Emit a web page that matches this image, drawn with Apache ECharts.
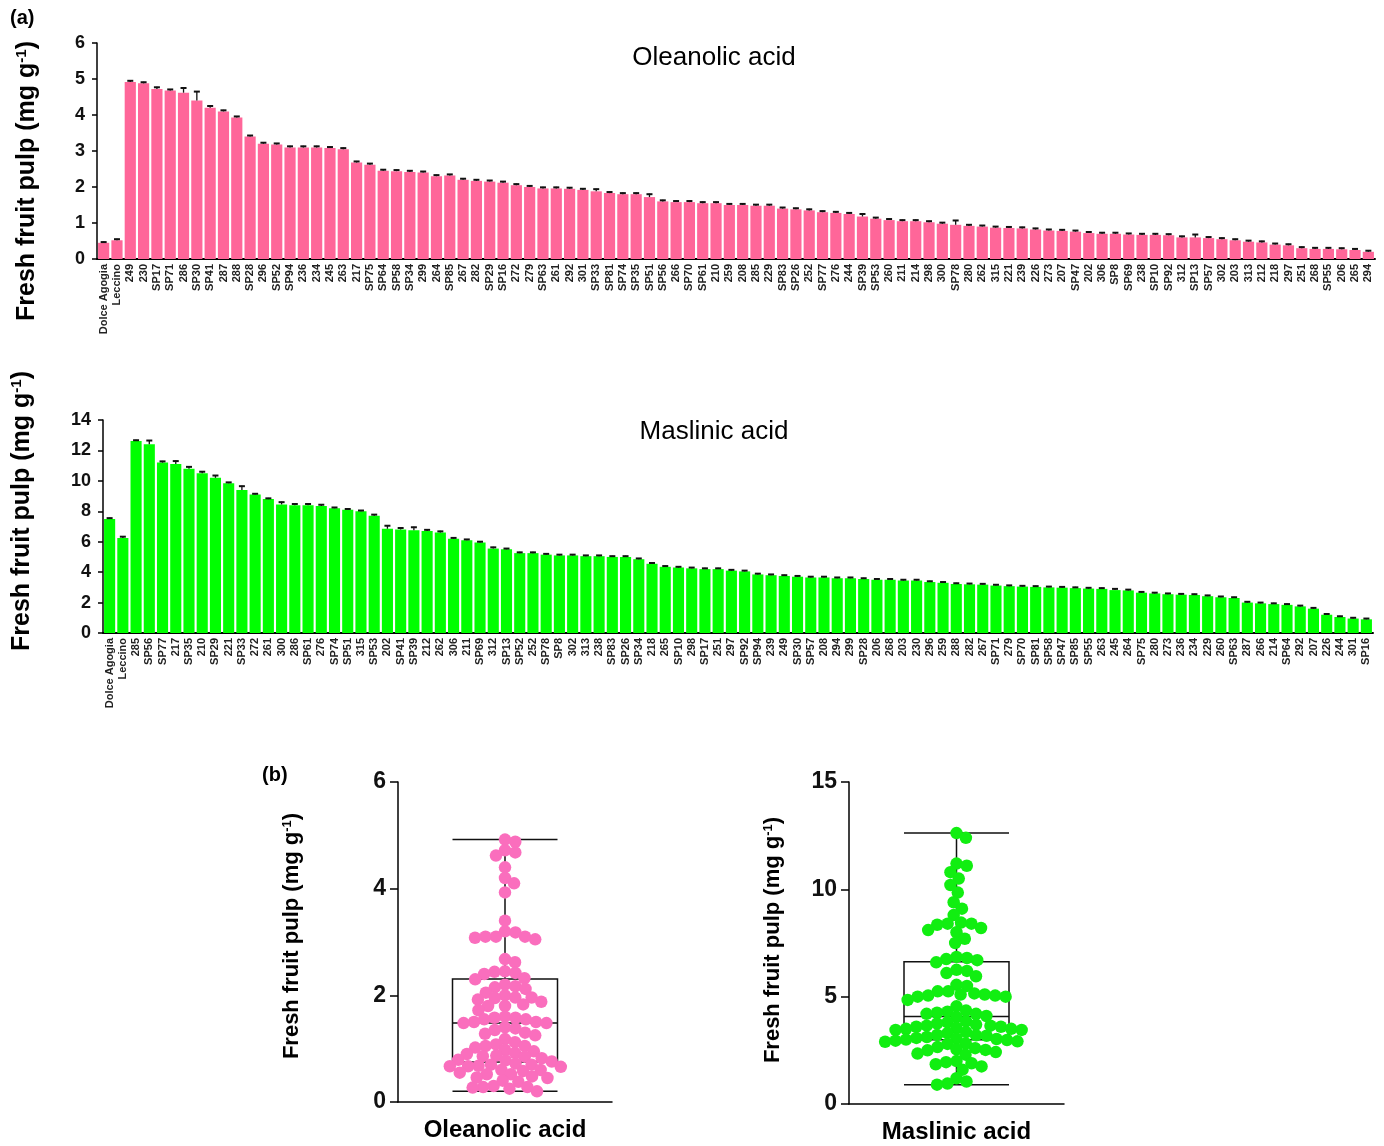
<!DOCTYPE html>
<html>
<head>
<meta charset="utf-8">
<script src="https://cdn.jsdelivr.net/npm/echarts@6/dist/echarts.min.js"></script>
<style>
  html, body { margin: 0; padding: 0; background: #fff; }
  #chart { width: 1384px; height: 1146px; }
</style>
</head>
<body>
<div id="chart"></div>
<script>
// ---- data ----
const oleCats = ['Dolce Agogia','Leccino','249','230','SP17','SP71','286','SP30','SP41','287','288','SP28','296','SP52','SP94','236','234','245','263','217','SP75','SP64','SP58','SP34','299','264','SP85','267','282','SP29','SP16','272','279','SP63','261','292','301','SP33','SP81','SP74','SP35','SP51','SP56','266','SP70','SP61','210','259','208','285','229','SP83','SP26','252','SP77','276','244','SP39','SP53','260','211','214','298','300','SP78','280','262','315','221','239','226','273','207','SP47','202','306','SP8','SP69','238','SP10','SP92','312','SP13','SP57','302','203','313','212','218','297','251','268','SP55','206','265','294'];
const oleVals = [0.45,0.52,4.92,4.88,4.72,4.68,4.62,4.40,4.20,4.10,3.93,3.40,3.20,3.18,3.10,3.10,3.10,3.08,3.05,2.68,2.62,2.45,2.44,2.42,2.40,2.30,2.32,2.20,2.17,2.15,2.12,2.05,2.00,1.96,1.96,1.95,1.92,1.88,1.83,1.80,1.80,1.72,1.60,1.58,1.58,1.55,1.55,1.50,1.50,1.48,1.48,1.40,1.38,1.35,1.30,1.28,1.25,1.18,1.12,1.08,1.05,1.05,1.02,0.98,0.95,0.92,0.90,0.87,0.86,0.85,0.82,0.79,0.78,0.76,0.72,0.70,0.70,0.68,0.67,0.67,0.66,0.60,0.60,0.58,0.55,0.52,0.48,0.46,0.40,0.38,0.30,0.28,0.28,0.27,0.25,0.20];
const oleErr = [0.02,0.03,0.03,0.03,0.05,0.03,0.13,0.25,0.05,0.03,0.03,0.03,0.03,0.03,0.03,0.03,0.03,0.03,0.03,0.03,0.03,0.03,0.03,0.03,0.03,0.03,0.03,0.03,0.03,0.03,0.03,0.03,0.03,0.03,0.03,0.03,0.03,0.06,0.03,0.03,0.03,0.08,0.03,0.03,0.03,0.03,0.03,0.03,0.03,0.03,0.03,0.03,0.03,0.03,0.03,0.03,0.03,0.07,0.03,0.03,0.03,0.03,0.03,0.03,0.12,0.03,0.03,0.03,0.03,0.03,0.03,0.03,0.03,0.03,0.03,0.03,0.03,0.03,0.03,0.03,0.03,0.03,0.08,0.03,0.03,0.03,0.03,0.03,0.03,0.03,0.03,0.03,0.03,0.03,0.03,0.03];

const masCats = ['Dolce Agogia','Leccino','285','SP56','SP77','217','SP35','210','SP29','221','SP33','272','261','300','286','SP61','276','SP74','SP51','315','SP53','202','SP41','SP39','212','262','306','211','SP69','312','SP13','SP52','252','SP78','SP8','302','313','238','SP83','SP26','SP34','218','265','SP10','298','SP17','251','297','SP92','SP94','239','249','SP30','SP57','208','294','299','SP28','206','268','203','230','296','259','288','282','267','SP71','279','SP70','SP81','SP58','SP47','SP85','SP55','263','245','264','SP75','280','273','236','234','229','260','SP63','287','266','214','SP64','292','207','226','244','301','SP16'];
const masVals = [7.50,6.25,12.62,12.40,11.20,11.10,10.80,10.50,10.20,9.85,9.40,9.10,8.80,8.45,8.40,8.40,8.35,8.20,8.10,8.00,7.70,6.85,6.80,6.75,6.70,6.60,6.20,6.10,5.95,5.55,5.50,5.25,5.25,5.15,5.10,5.10,5.05,5.05,5.00,5.00,4.85,4.55,4.35,4.30,4.25,4.20,4.20,4.10,4.05,3.85,3.80,3.75,3.70,3.65,3.65,3.60,3.60,3.55,3.50,3.50,3.45,3.45,3.35,3.30,3.22,3.20,3.18,3.12,3.08,3.05,3.03,3.00,2.98,2.95,2.92,2.90,2.82,2.80,2.65,2.60,2.55,2.52,2.50,2.42,2.35,2.30,2.00,1.95,1.90,1.85,1.75,1.60,1.20,1.05,0.95,0.90];
const masErr = [0.05,0.08,0.05,0.25,0.08,0.20,0.12,0.10,0.15,0.05,0.25,0.05,0.05,0.15,0.08,0.08,0.08,0.05,0.05,0.05,0.08,0.20,0.10,0.20,0.08,0.08,0.05,0.05,0.05,0.08,0.05,0.05,0.05,0.05,0.05,0.05,0.05,0.05,0.05,0.05,0.05,0.05,0.05,0.05,0.05,0.05,0.05,0.05,0.05,0.05,0.05,0.05,0.05,0.05,0.05,0.05,0.05,0.05,0.05,0.05,0.05,0.05,0.05,0.05,0.05,0.05,0.05,0.05,0.05,0.05,0.05,0.05,0.05,0.05,0.05,0.05,0.08,0.05,0.05,0.05,0.05,0.05,0.05,0.05,0.05,0.05,0.05,0.05,0.05,0.05,0.05,0.05,0.05,0.05,0.05,0.05];

const FONT = 'Liberation Sans, Arial, sans-serif';
const PINK = '#ff6699', GREEN = '#00ff00';
const DOT_PINK = '#fa6ebd', DOT_GREEN = '#11ee11';

// box statistics [min, q1, median, q3, max]
function quantile(sorted, p) {
  const pos = (sorted.length - 1) * p;
  const lo = Math.floor(pos), hi = Math.ceil(pos);
  return sorted[lo] + (sorted[hi] - sorted[lo]) * (pos - lo);
}
function boxStats(vals) {
  const s = vals.slice().sort((a, b) => a - b);
  return [s[0], quantile(s, 0.25), quantile(s, 0.5), quantile(s, 0.75), s[s.length - 1]];
}

// beeswarm placement, x offsets in pixels
function swarm(vals, pxPerUnit, d) {
  const order = vals.map((v, i) => i).sort((a, b) => vals[b] - vals[a]);
  const placed = [];
  const out = [];
  order.forEach(i => {
    const y = vals[i] * pxPerUnit;
    const near = placed.filter(p => Math.abs(p[1] - y) < d);
    const cands = [0];
    near.forEach(p => {
      const dx = Math.sqrt(d * d - (p[1] - y) * (p[1] - y));
      cands.push(p[0] + dx, p[0] - dx);
    });
    cands.sort((a, b) => Math.abs(a) - Math.abs(b));
    let x = 0;
    for (const c of cands) {
      if (near.every(p => (p[0] - c) ** 2 + (p[1] - y) ** 2 >= d * d - 0.01)) { x = c; break; }
    }
    placed.push([x, y]);
    out.push([x, vals[i]]);
  });
  return out;
}

function errSeries(xi, yi, vals, errs) {
  return {
    type: 'custom', xAxisIndex: xi, yAxisIndex: yi, z: 5,
    data: vals.map((v, i) => [i, v, errs[i]]),
    renderItem: function (params, api) {
      const i = api.value(0), v = api.value(1), e = api.value(2);
      const p0 = api.coord([i, v]);
      const p1 = api.coord([i, v + e]);
      const w = 6;
      return {
        type: 'group',
        children: [
          { type: 'line', shape: { x1: p0[0], y1: p0[1], x2: p1[0], y2: p1[1] - 0.5 }, style: { stroke: '#111', lineWidth: 1.3 } },
          { type: 'line', shape: { x1: p1[0] - w / 2, y1: p1[1], x2: p1[0] + w / 2, y2: p1[1] }, style: { stroke: '#111', lineWidth: 2 } }
        ]
      };
    }
  };
}

function yName(x, y, size, supSize) {
  return {
    type: 'text', x: x, y: y, rotation: Math.PI / 2,
    style: {
      text: 'Fresh fruit pulp (mg g{sup|-1})',
      fontSize: size, fontWeight: 'bold', fontFamily: FONT, fill: '#000',
      align: 'center', verticalAlign: 'middle',
      rich: { sup: { fontSize: supSize, fontWeight: 'bold', fontFamily: FONT, fill: '#000', verticalAlign: 'top' } }
    }
  };
}

const barX = (cats, gi) => ({
  type: 'category', gridIndex: gi, data: cats,
  axisLine: { lineStyle: { color: '#000', width: 2 } },
  axisTick: { show: false },
  axisLabel: { interval: 0, rotate: 90, fontSize: 11, fontWeight: 'bold', fontFamily: FONT, color: '#222', margin: 5 }
});
const valY = (gi, max, interval, fs, tick, margin) => ({
  type: 'value', gridIndex: gi, min: 0, max: max, interval: interval,
  splitLine: { show: false },
  axisLine: { show: true, onZero: false, lineStyle: { color: '#000', width: 1.5 } },
  axisTick: { show: true, length: tick, lineStyle: { color: '#000', width: 1.5 } },
  axisLabel: { fontSize: fs, fontWeight: 'bold', fontFamily: FONT, color: '#111', margin: margin }
});
const boxX = (label, gi) => ({
  type: 'category', gridIndex: gi, data: [label],
  axisLine: { onZero: false, lineStyle: { color: '#000', width: 1.5 } },
  axisTick: { alignWithLabel: true, length: 10, lineStyle: { color: '#000', width: 1.5 } },
  axisLabel: { fontSize: 24, fontWeight: 'bold', fontFamily: FONT, color: '#000', margin: 16 }
});

const chart = echarts.init(document.getElementById('chart'));
chart.setOption({
  animation: false,
  backgroundColor: '#fff',
  title: [
    { text: 'Oleanolic acid', left: 709, top: 40, textAlign: 'center', textStyle: { fontSize: 26, fontWeight: 'normal', fontFamily: FONT, color: '#000' } },
    { text: 'Maslinic acid', left: 709, top: 414, textAlign: 'center', textStyle: { fontSize: 26, fontWeight: 'normal', fontFamily: FONT, color: '#000' } }
  ],
  graphic: [
    { type: 'text', x: 10, y: 8, style: { text: '(a)', fontSize: 20, fontWeight: 'bold', fontFamily: FONT, fill: '#000' } },
    { type: 'text', x: 262, y: 765, style: { text: '(b)', fontSize: 20, fontWeight: 'bold', fontFamily: FONT, fill: '#000' } },
    yName(27, 181, 25, 15),
    yName(22, 511, 25, 15),
    yName(292, 936, 22, 13),
    yName(773, 940, 22, 13)
  ],
  grid: [
    { left: 97, top: 43, width: 1278, height: 216 },
    { left: 103, top: 420, width: 1270, height: 213 },
    { left: 398, top: 782, width: 214, height: 320 },
    { left: 849, top: 782, width: 215, height: 322 }
  ],
  xAxis: [
    barX(oleCats, 0),
    barX(masCats, 1),
    boxX('Oleanolic acid', 2),
    boxX('Maslinic acid', 3),
    { type: 'value', gridIndex: 2, min: -107, max: 107, show: false },
    { type: 'value', gridIndex: 3, min: -107.5, max: 107.5, show: false }
  ],
  yAxis: [
    valY(0, 6, 1, 18, 5, 12),
    valY(1, 14, 2, 18, 5, 12),
    valY(2, 6, 2, 23, 8, 12),
    valY(3, 15, 5, 23, 8, 12)
  ],
  series: [
    { type: 'bar', xAxisIndex: 0, yAxisIndex: 0, data: oleVals, barCategoryGap: '16%', itemStyle: { color: PINK } },
    errSeries(0, 0, oleVals, oleErr),
    { type: 'bar', xAxisIndex: 1, yAxisIndex: 1, data: masVals, barCategoryGap: '16%', itemStyle: { color: GREEN } },
    errSeries(1, 1, masVals, masErr),
    { type: 'boxplot', xAxisIndex: 2, yAxisIndex: 2, data: [boxStats(oleVals)], boxWidth: [105, 105], z: 2,
      itemStyle: { color: 'rgba(0,0,0,0)', borderColor: '#111', borderWidth: 1.5 } },
    { type: 'scatter', xAxisIndex: 4, yAxisIndex: 2, data: swarm(oleVals, 320 / 6, 10.5), symbolSize: 12.5, z: 3,
      itemStyle: { color: DOT_PINK, opacity: 1 } },
    { type: 'boxplot', xAxisIndex: 3, yAxisIndex: 3, data: [boxStats(masVals)], boxWidth: [105, 105], z: 2,
      itemStyle: { color: 'rgba(0,0,0,0)', borderColor: '#111', borderWidth: 1.5 } },
    { type: 'scatter', xAxisIndex: 5, yAxisIndex: 3, data: swarm(masVals, 322 / 15, 10.5), symbolSize: 12.5, z: 3,
      itemStyle: { color: DOT_GREEN, opacity: 1 } }
  ]
});
</script>
</body>
</html>
